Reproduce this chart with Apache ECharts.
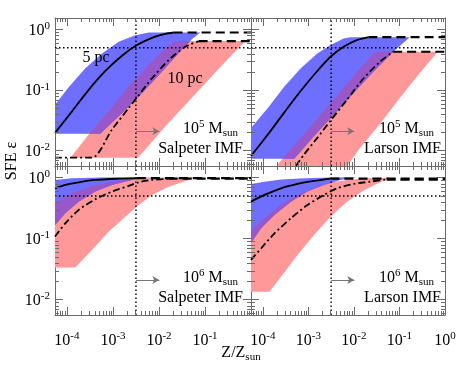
<!DOCTYPE html>
<html><head><meta charset="utf-8">
<script src="https://cdn.jsdelivr.net/npm/echarts@6/dist/echarts.min.js"></script>
<style>html,body{margin:0;padding:0;background:#fff}#c{width:463px;height:371px}</style>
</head><body><div id="c"></div>
<script>
// ---- axis ranges and reference values ----
const X_MIN = 5.5e-5, X_MAX = 1, Y_MIN = 0.0056, Y_MAX = 1.55;
const Z_CRIT = 0.00316, EPS_HALF = 0.5;
const ARROW_Y = 0.021, ARROW_END = 0.0102;
const xMinorTicks = [6e-5,7e-5,8e-5,9e-5,2e-4,3e-4,4e-4,5e-4,6e-4,7e-4,8e-4,9e-4,2e-3,3e-3,4e-3,5e-3,6e-3,7e-3,8e-3,9e-3,2e-2,3e-2,4e-2,5e-2,6e-2,7e-2,8e-2,9e-2,0.2,0.3,0.4,0.5,0.6,0.7,0.8,0.9];
const yMinorTicks = [6e-3,7e-3,8e-3,9e-3,2e-2,3e-2,4e-2,5e-2,6e-2,7e-2,8e-2,9e-2,0.2,0.3,0.4,0.5,0.6,0.7,0.8,0.9];

// ---- top-left: 1e5 Msun, Salpeter IMF ----
const tlBlueTop = [[5.5e-5,0.0575],[1.09e-4,0.112],[2.51e-4,0.229],[5.78e-4,0.404],[1.33e-3,0.628],[3.07e-3,0.807],[5.97e-3,0.893],[7.94e-2,0.893]];
const tlBlueBottom = [[5.5e-5,0.019],[5.32e-4,0.019],[1.45e-3,0.0394],[4.0e-3,0.0839],[1.08e-2,0.190],[2.85e-2,0.430],[5.4e-2,0.711],[7.94e-2,0.893]];
const tlRedTop = [[1.19e-4,0.00768],[2.97e-4,0.0185],[8.07e-4,0.0447],[2.20e-3,0.115],[5.97e-3,0.260],[1.38e-2,0.489],[2.27e-2,0.644],[0.755,0.644]];
const tlRedBottom = [[1.19e-4,0.00768],[3.50e-3,0.00768],[5.06e-3,0.0105],[1.38e-2,0.0254],[3.75e-2,0.0575],[0.102,0.130],[0.277,0.295],[0.755,0.644]];
const tl5pc = [[5.5e-5,0.0197],[1.29e-4,0.0447],[2.97e-4,0.101],[6.83e-4,0.207],[1.57e-3,0.370],[3.33e-3,0.554],[7.06e-3,0.730],[1.38e-2,0.849],[2.09e-2,0.893]];
const tl5pcFlat = [[2.09e-2,0.893],[1,0.893]];
const tl10pc = [[5.5e-5,0.00768],[3.51e-4,0.00768],[9.53e-4,0.0224],[2.20e-3,0.0507],[3.33e-3,0.0759],[7.06e-3,0.157],[1.63e-2,0.314],[3.75e-2,0.52],[7.3e-2,0.644]];
const tl10pcFlat = [[7.3e-2,0.644],[1,0.644]];

// ---- top-right: 1e5 Msun, Larson IMF ----
const trBlueTop = [[5.5e-5,0.0238],[1.29e-4,0.0507],[2.97e-4,0.115],[6.83e-4,0.229],[1.57e-3,0.404],[3.07e-3,0.554],[5.97e-3,0.711],[8.34e-3,0.748],[0.168,0.748]];
const trBlueBottom = [[5.5e-5,0.0074],[4.90e-4,0.0074],[1.33e-3,0.0174],[3.62e-3,0.0394],[9.86e-3,0.0893],[2.69e-2,0.202],[7.3e-2,0.430],[0.168,0.748]];
const trRedTop = [[1.99e-4,0.0056],[2.73e-4,0.0074],[6.83e-4,0.0163],[1.86e-3,0.0394],[5.06e-3,0.0951],[1.38e-2,0.229],[2.92e-2,0.430],[0.695,0.430]];
const trRedBottom = [[1.99e-4,0.0056],[7.06e-3,0.0056],[1.38e-2,0.0112],[3.75e-2,0.028],[0.102,0.074],[0.277,0.190],[0.695,0.430]];
const tr5pc = [[5.5e-5,0.00818],[1.29e-4,0.0185],[2.97e-4,0.043],[6.83e-4,0.0976],[1.57e-3,0.207],[3.07e-3,0.356],[5.97e-3,0.52],[1.16e-2,0.668],[2.09e-2,0.748]];
const tr5pcFlat = [[2.09e-2,0.748],[1,0.748]];
const tr10pc = [[5.32e-4,0.0056],[8.07e-4,0.0087],[1.57e-3,0.0163],[3.07e-3,0.0314],[7.06e-3,0.0695],[1.63e-2,0.157],[3.75e-2,0.295],[7.3e-2,0.43]];
const tr10pcFlat = [[7.3e-2,0.43],[1,0.43]];

// ---- bottom-left: 1e6 Msun, Salpeter IMF ----
const blBlueTop = [[5.5e-5,0.916],[1.29e-4,0.975],[5.78e-4,1.0],[7.06e-3,1.0]];
const blBlueBottom = [[5.5e-5,0.166],[9.2e-5,0.260],[1.8e-4,0.404],[4.14e-4,0.59],[9.53e-4,0.758],[2.6e-3,0.916],[7.06e-3,1.0]];
const blRedTop = [[5.5e-5,0.379],[1.29e-4,0.554],[3.51e-4,0.73],[9.53e-4,0.859],[3.07e-3,0.951],[1.16e-2,1.0],[7.3e-2,1.0]];
const blRedBottom = [[5.5e-5,0.0335],[1.52e-4,0.0335],[3.51e-4,0.0652],[8.07e-4,0.130],[1.86e-3,0.229],[3.62e-3,0.356],[7.06e-3,0.52],[1.63e-2,0.711],[3.75e-2,0.881],[7.3e-2,1.0]];
const bl5pc = [[5.5e-5,0.668],[9.2e-5,0.758],[1.8e-4,0.839],[4.14e-4,0.916],[1.33e-3,0.96],[3.33e-3,0.98]];
const bl5pcFlat = [[3.33e-3,0.98],[1,0.98]];
const bl10pc = [[5.5e-5,0.108],[9.2e-5,0.178],[1.8e-4,0.295],[4.14e-4,0.441],[9.53e-4,0.59],[2.2e-3,0.73],[3.62e-3,0.839],[7.06e-3,0.916],[1.63e-2,0.96]];
const bl10pcFlat = [[1.63e-2,0.96],[1,0.96]];

// ---- bottom-right: 1e6 Msun, Larson IMF ----
const brBlueTop = [[5.5e-5,0.787],[1.09e-4,0.859],[2.51e-4,0.927],[8.07e-4,0.975],[3.07e-3,1.0],[1.16e-2,1.01]];
const brBlueBottom = [[5.5e-5,0.085],[9.2e-5,0.148],[1.8e-4,0.244],[4.14e-4,0.404],[9.53e-4,0.59],[2.2e-3,0.758],[5.06e-3,0.916],[1.16e-2,1.01]];
const brRedTop = [[5.5e-5,0.139],[1.09e-4,0.216],[2.51e-4,0.356],[5.78e-4,0.52],[1.33e-3,0.685],[3.07e-3,0.828],[7.06e-3,0.916],[1.92e-2,0.975],[6.2e-2,1.0]];
const brRedBottom = [[5.5e-5,0.0135],[1.40e-4,0.0135],[2.51e-4,0.0238],[5.78e-4,0.054],[1.33e-3,0.115],[3.07e-3,0.229],[7.06e-3,0.404],[1.63e-2,0.612],[3.17e-2,0.787],[6.2e-2,1.0]];
const br5pc = [[5.5e-5,0.404],[1.09e-4,0.52],[2.51e-4,0.668],[5.78e-4,0.787],[1.33e-3,0.881],[3.07e-3,0.96]];
const br5pcFlat = [[3.07e-3,0.96],[1,0.96]];
const br10pc = [[5.5e-5,0.0447],[9.2e-5,0.0695],[1.8e-4,0.122],[4.14e-4,0.216],[9.53e-4,0.356],[2.2e-3,0.52],[4.28e-3,0.668],[9.86e-3,0.787],[2.27e-2,0.859],[5.24e-2,0.93]];
const br10pcFlat = [[5.24e-2,0.93],[1,0.93]];

const panels = [
  {blueTop:tlBlueTop, blueBottom:tlBlueBottom, redTop:tlRedTop, redBottom:tlRedBottom, l5:tl5pc, l5f:tl5pcFlat, l10:tl10pc, l10f:tl10pcFlat},
  {blueTop:trBlueTop, blueBottom:trBlueBottom, redTop:trRedTop, redBottom:trRedBottom, l5:tr5pc, l5f:tr5pcFlat, l10:tr10pc, l10f:tr10pcFlat},
  {blueTop:blBlueTop, blueBottom:blBlueBottom, redTop:blRedTop, redBottom:blRedBottom, l5:bl5pc, l5f:bl5pcFlat, l10:bl10pc, l10f:bl10pcFlat},
  {blueTop:brBlueTop, blueBottom:brBlueBottom, redTop:brRedTop, redBottom:brRedBottom, l5:br5pc, l5f:br5pcFlat, l10:br10pc, l10f:br10pcFlat}
];

const FONT = "'Liberation Serif','DejaVu Serif','Times New Roman',serif";
const AXIS_COLOR = '#6a6a6a';
const COL_BLUE = '#6e6eff', COL_RED = '#ff9898', COL_BOTH = '#9858ca';
const grids = [
  {left:55, top:18, width:196, height:148},
  {left:251, top:18, width:194, height:148},
  {left:55, top:166, width:196, height:149},
  {left:251, top:166, width:194, height:149}
];

const richNum = {
  b: {fontSize:16, fontFamily:FONT, color:'#000', lineHeight:18, verticalAlign:'bottom'},
  s: {fontSize:11, fontFamily:FONT, color:'#000', lineHeight:12, verticalAlign:'top'}
};
function isPow10(v){ const l = Math.log10(v); return Math.abs(l - Math.round(l)) < 1e-6; }
function powLabel(v){ return '{b|10}{s|' + Math.round(Math.log10(v)) + '}'; }

const xAxes = [], yAxes = [], series = [];
grids.forEach((g, i) => {
  const bottomRow = i >= 2, leftCol = (i % 2) === 0;
  const common = {type:'log', logBase:10, gridIndex:i, splitLine:{show:false}, minorTick:{show:false},
    axisLine:{show:true, lineStyle:{color:AXIS_COLOR, width:1}},
    axisTick:{show:true, inside:true, length:8, lineStyle:{color:AXIS_COLOR, width:1}}};
  xAxes.push(Object.assign({}, common, {min:X_MIN, max:X_MAX, position:'bottom',
    axisLabel:{show:bottomRow, margin:16, rich:richNum, showMinLabel:true, showMaxLabel:true,
      formatter: v => (isPow10(v) && !(leftCol && v > 0.5)) ? powLabel(v) : ''}}));
  xAxes.push(Object.assign({}, common, {min:X_MIN, max:X_MAX, position:'top', axisLabel:{show:false}}));
  yAxes.push(Object.assign({}, common, {min:Y_MIN, max:Y_MAX, position:'left',
    axisLabel:{show:leftCol, margin:5, rich:richNum, formatter: v => isPow10(v) ? powLabel(v) : ''}}));
  yAxes.push(Object.assign({}, common, {min:Y_MIN, max:Y_MAX, position:'right', axisLabel:{show:false}}));

  const xi = 2*i, yi = 2*i;
  const p = panels[i];
  const redPoly = p.redTop.concat(p.redBottom.slice().reverse());
  const bluePoly = p.blueTop.concat(p.blueBottom.slice().reverse());
  // bands: 10 pc (red), 5 pc (blue), overlap (purple)
  series.push({
    type:'custom', xAxisIndex:xi, yAxisIndex:yi, silent:true, z:1, clip:true, animation:false,
    data: redPoly.concat(bluePoly), encode:{x:0, y:1},
    renderItem: (params, api) => {
      if (params.dataIndex !== 0) return null;
      const rp = redPoly.map(d => api.coord(d));
      const bp = bluePoly.map(d => api.coord(d));
      return {type:'group', children:[
        {type:'polygon', shape:{points:rp}, style:{fill:COL_RED}},
        {type:'polygon', shape:{points:bp}, style:{fill:COL_BLUE}},
        {type:'polygon', shape:{points:rp}, style:{fill:COL_BOTH},
          clipPath:{type:'polygon', shape:{points:bp}}}
      ]};
    }
  });

  const line = (data, type, width, z) => ({
    type:'line', xAxisIndex:xi, yAxisIndex:yi, data:data, showSymbol:false, symbol:'none', smooth:0.25,
    silent:true, animation:false, z:z, clip:true,
    lineStyle:{color:'#000', width:width, type:type, cap:'butt'}
  });
  series.push(line(p.l5, 'solid', 1.8, 5));
  series.push(line(p.l5f, [9,5], 2.2, 5));
  series.push(line(p.l10, [7,3,2,3], 1.8, 5));
  series.push(line(p.l10f, [9,5], 2.2, 5));

  // dotted reference lines and arrow
  const dv = line([[Z_CRIT, Y_MIN],[Z_CRIT, Y_MAX]], [1.5,2.5], 1.4, 6);
  dv.smooth = false;
  dv.markLine = {silent:true, animation:false, symbol:['none','arrow'], symbolSize:[6,7],
    label:{show:false}, lineStyle:{color:'#777', type:'solid', width:1},
    data:[[{coord:[Z_CRIT, ARROW_Y]},{coord:[ARROW_END, ARROW_Y]}]]};
  series.push(dv);
  const dh = line([[X_MIN, EPS_HALF],[X_MAX, EPS_HALF]], [1.5,2.5], 1.4, 6);
  dh.smooth = false;
  series.push(dh);

  // minor ticks on all four sides
  series.push({type:'custom', xAxisIndex:xi, yAxisIndex:yi, silent:true, z:10, animation:false, clip:false,
    data: xMinorTicks.map(v => [v, 0.1]), encode:{x:0, y:1},
    renderItem:(params, api) => {
      const cs = params.coordSys;
      const x = Math.round(api.coord([api.value(0), 0.1])[0]) + 0.5;
      if (x <= cs.x + 1 || x >= cs.x + cs.width - 1) return null;
      return {type:'group', children:[
        {type:'line', shape:{x1:x, y1:cs.y + cs.height, x2:x, y2:cs.y + cs.height - 4}, style:{stroke:AXIS_COLOR, lineWidth:1}},
        {type:'line', shape:{x1:x, y1:cs.y, x2:x, y2:cs.y + 4}, style:{stroke:AXIS_COLOR, lineWidth:1}}
      ]};
    }});
  series.push({type:'custom', xAxisIndex:xi, yAxisIndex:yi, silent:true, z:10, animation:false, clip:false,
    data: yMinorTicks.map(v => [0.01, v]), encode:{x:0, y:1},
    renderItem:(params, api) => {
      const cs = params.coordSys;
      const y = Math.round(api.coord([0.01, api.value(1)])[1]) + 0.5;
      if (y <= cs.y + 1 || y >= cs.y + cs.height - 1) return null;
      return {type:'group', children:[
        {type:'line', shape:{x1:cs.x, y1:y, x2:cs.x + 4, y2:y}, style:{stroke:AXIS_COLOR, lineWidth:1}},
        {type:'line', shape:{x1:cs.x + cs.width, y1:y, x2:cs.x + cs.width - 4, y2:y}, style:{stroke:AXIS_COLOR, lineWidth:1}}
      ]};
    }});
});

const txt = {fontFamily:FONT, fill:'#000'};
const richLbl = {
  a: {fontSize:16, fontFamily:FONT, color:'#000', lineHeight:20, verticalAlign:'middle'},
  s: {fontSize:11, fontFamily:FONT, color:'#000', lineHeight:12, verticalAlign:'top'},
  u: {fontSize:11, fontFamily:FONT, color:'#000', lineHeight:12, verticalAlign:'bottom'}
};
function t(x, y, text, size, align, extra){
  return Object.assign({type:'text', x:x, y:y, z:100, silent:true,
    style:Object.assign({text:text, fontSize:size, align:align, verticalAlign:'middle', rich:richLbl}, txt)}, extra || {});
}
const graphic = [
  t(96, 58, '5 pc', 16, 'center'),
  t(185, 79, '10 pc', 16, 'center'),
  t(238, 129, '{a|10}{s|5}{a| M}{u|sun}', 16, 'right'),
  t(243, 149, 'Salpeter IMF', 16, 'right'),
  t(434, 129, '{a|10}{s|5}{a| M}{u|sun}', 16, 'right'),
  t(441, 149, 'Larson IMF', 16, 'right'),
  t(238, 278, '{a|10}{s|6}{a| M}{u|sun}', 16, 'right'),
  t(243, 298, 'Salpeter IMF', 16, 'right'),
  t(434, 278, '{a|10}{s|6}{a| M}{u|sun}', 16, 'right'),
  t(441, 298, 'Larson IMF', 16, 'right'),
  t(241, 353, '{a|Z/Z}{u|sun}', 16, 'center'),
  t(12, 161, 'SFE ε', 16, 'center', {rotation: Math.PI/2})
];

const chart = echarts.init(document.getElementById('c'), null, {renderer:'canvas'});
chart.setOption({
  animation:false, backgroundColor:'#fff',
  grid: grids, xAxis: xAxes, yAxis: yAxes, series: series, graphic: graphic
});
</script></body></html>
